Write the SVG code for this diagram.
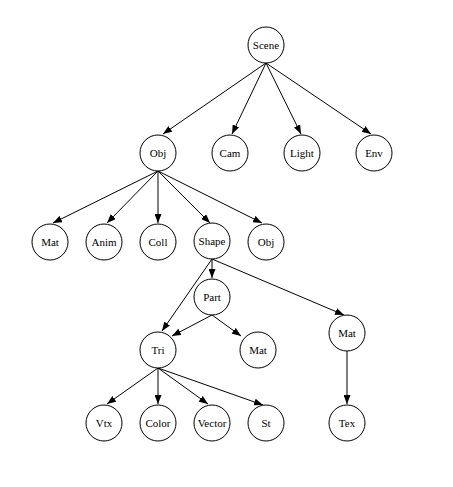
<svg xmlns="http://www.w3.org/2000/svg" width="453" height="487" viewBox="0 0 453 487">
<style>
.n circle{fill:#fff;stroke:#000;stroke-width:1}
.n text{font-family:"Liberation Serif","Times New Roman",serif;font-size:11px;text-anchor:middle;fill:#000}
#edges line{stroke:#000;stroke-width:1;marker-end:url(#ah)}
</style>
<defs>
<marker id="ah" markerUnits="userSpaceOnUse" markerWidth="9" markerHeight="7" refX="9" refY="3.5" orient="auto">
<path d="M0,0 L9,3.5 L0,7 z" fill="#000"/>
</marker>
</defs>
<rect width="453" height="487" fill="#fff"/>
<g id="edges">
<line x1="266" y1="63" x2="163" y2="134"/>
<line x1="266" y1="63" x2="232" y2="134"/>
<line x1="266" y1="63" x2="301" y2="134"/>
<line x1="266" y1="63" x2="371" y2="134"/>
<line x1="158" y1="171" x2="53" y2="223"/>
<line x1="158" y1="171" x2="107" y2="223"/>
<line x1="158" y1="171" x2="158" y2="223"/>
<line x1="158" y1="171" x2="210" y2="223"/>
<line x1="158" y1="171" x2="262" y2="223"/>
<line x1="212" y1="259" x2="212" y2="278"/>
<line x1="212" y1="259" x2="162" y2="331"/>
<line x1="212" y1="259" x2="344" y2="315"/>
<line x1="212" y1="315" x2="172" y2="336"/>
<line x1="212" y1="315" x2="241" y2="336"/>
<line x1="158" y1="368" x2="107" y2="404"/>
<line x1="158" y1="368" x2="158" y2="404"/>
<line x1="158" y1="368" x2="208" y2="404"/>
<line x1="158" y1="368" x2="263" y2="405"/>
<line x1="347" y1="351" x2="347" y2="404"/>
</g>
<g id="scene" class="n"><circle cx="266" cy="45" r="18"/><text x="266" y="49">Scene</text></g>
<g id="obj" class="n"><circle cx="158" cy="153" r="18"/><text x="158" y="157">Obj</text></g>
<g id="cam" class="n"><circle cx="230" cy="153" r="18"/><text x="230" y="157">Cam</text></g>
<g id="light" class="n"><circle cx="302" cy="153" r="18"/><text x="302" y="157">Light</text></g>
<g id="env" class="n"><circle cx="374" cy="153" r="18"/><text x="374" y="157">Env</text></g>
<g id="mat1" class="n"><circle cx="50" cy="242" r="18"/><text x="50" y="246">Mat</text></g>
<g id="anim" class="n"><circle cx="104" cy="242" r="18"/><text x="104" y="246">Anim</text></g>
<g id="coll" class="n"><circle cx="158" cy="242" r="18"/><text x="158" y="246">Coll</text></g>
<g id="shape" class="n"><circle cx="212" cy="241" r="18"/><text x="212" y="245">Shape</text></g>
<g id="obj2" class="n"><circle cx="266" cy="242" r="18"/><text x="266" y="246">Obj</text></g>
<g id="part" class="n"><circle cx="212" cy="297" r="18"/><text x="212" y="301">Part</text></g>
<g id="tri" class="n"><circle cx="158" cy="350" r="18"/><text x="158" y="354">Tri</text></g>
<g id="mat2" class="n"><circle cx="258" cy="350" r="18"/><text x="258" y="354">Mat</text></g>
<g id="mat3" class="n"><circle cx="347" cy="333" r="18"/><text x="347" y="337">Mat</text></g>
<g id="vtx" class="n"><circle cx="104" cy="423" r="18"/><text x="104" y="427">Vtx</text></g>
<g id="color" class="n"><circle cx="158" cy="423" r="18"/><text x="158" y="427">Color</text></g>
<g id="vector" class="n"><circle cx="212" cy="423" r="18"/><text x="212" y="427">Vector</text></g>
<g id="st" class="n"><circle cx="266" cy="423" r="18"/><text x="266" y="427">St</text></g>
<g id="tex" class="n"><circle cx="347" cy="423" r="18"/><text x="347" y="427">Tex</text></g>
</svg>
